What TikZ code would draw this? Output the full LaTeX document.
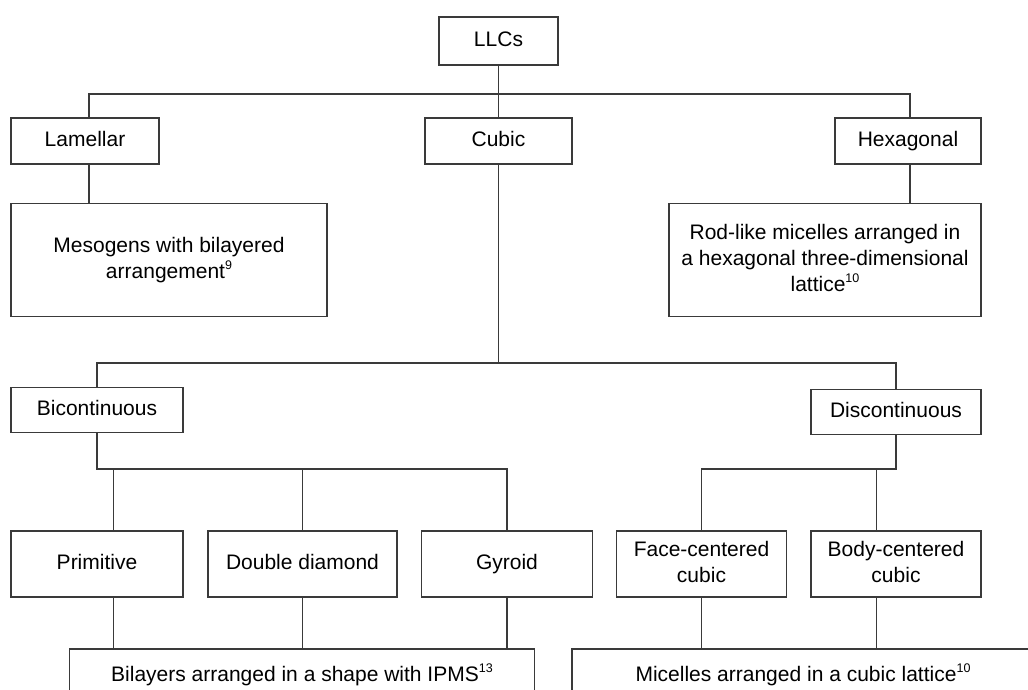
\documentclass[tikz,border=0pt]{standalone}
\usepackage{fontspec}
\setmainfont{Liberation Sans}
\definecolor{linec}{HTML}{3A3A3A}
\newcommand\refnum[1]{\raisebox{9pt}{\fontsize{12.5}{12.5}\selectfont #1}}
\newcommand\ph{\vphantom{Ay}}
\tikzset{
  box/.style={draw=linec, line width=1.4pt, rectangle, inner sep=0pt, align=center,
    font=\fontsize{21}{25.8}\selectfont, text=black},
  conn/.style={draw=linec, line width=1.4pt}
}
\begin{document}
\begin{tikzpicture}[x=1pt,y=-1pt]
\useasboundingbox (0,0) rectangle (1028,690);
\clip (0,0) rectangle (1028,690);
\fill[white] (0,0) rectangle (1028,690);

\node[box, minimum width=119pt, minimum height=48pt] (llc) at (498.5,41) {\ph LLCs};
\node[box, minimum width=148pt, minimum height=46pt] (lam) at (85,141) {\ph Lamellar};
\node[box, minimum width=147pt, minimum height=46pt] (cub) at (498.5,141) {\ph Cubic};
\node[box, minimum width=146pt, minimum height=46pt] (hex) at (908,141) {\ph Hexagonal};
\node[box, minimum width=316pt, minimum height=113pt] (meso) at (169,260) {\ph Mesogens with bilayered\\\ph arrangement\refnum{9}};
\node[box, minimum width=312pt, minimum height=113pt] (hexd) at (825,260) {\ph Rod-like micelles arranged in\\\ph a hexagonal three-dimensional\\\ph lattice\refnum{10}};
\node[box, minimum width=172pt, minimum height=45pt] (bic) at (97,410) {\ph Bicontinuous};
\node[box, minimum width=170pt, minimum height=45pt] (dis) at (896,412) {\ph Discontinuous};
\node[box, minimum width=172pt, minimum height=66pt] (prim) at (97,564) {\ph Primitive};
\node[box, minimum width=189pt, minimum height=66pt] (dd) at (302.5,564) {\ph Double diamond};
\node[box, minimum width=171pt, minimum height=66pt] (gyr) at (507,564) {\ph Gyroid};
\node[box, minimum width=170pt, minimum height=66pt] (fcc) at (701.5,564) {\ph Face-centered\\\ph cubic};
\node[box, minimum width=170pt, minimum height=66pt] (bcc) at (896,564) {\ph Body-centered\\\ph cubic};
\node[box, minimum width=465pt, minimum height=52pt] (bil) at (302,675) {\ph Bilayers arranged in a shape with IPMS\refnum{13}};
\node[box, minimum width=462pt, minimum height=52pt] (mic) at (803,675) {\ph Micelles arranged in a cubic lattice\refnum{10}};

\coordinate (b1) at (0,94);
\coordinate (b2) at (0,363);
\coordinate (b3) at (0,469);
\coordinate (lamT) at ([xshift=4pt]lam.north);
\coordinate (lamB) at ([xshift=4pt]lam.south);
\coordinate (hexT) at ([xshift=2pt]hex.north);
\coordinate (hexB) at ([xshift=2pt]hex.south);
\coordinate (primT) at ([xshift=16.7pt]prim.north);
\coordinate (primB) at ([xshift=16.7pt]prim.south);
\coordinate (bccT) at ([xshift=-19.3pt]bcc.north);
\coordinate (bccB) at ([xshift=-19.3pt]bcc.south);

\draw[conn] (llc.south) -- (cub.north);
\draw[conn] (lamT) -- (lamT |- b1) -- (hexT |- b1) -- (hexT);
\draw[conn] (lamB) -- (lamB |- meso.north);
\draw[conn] (hexB) -- (hexB |- hexd.north);
\draw[conn] (cub.south) -- (cub.south |- b2);
\draw[conn] (bic.north) -- (bic.north |- b2) -- (dis.north |- b2) -- (dis.north);
\draw[conn] (bic.south) -- (bic.south |- b3) -- (gyr.north |- b3) -- (gyr.north);
\draw[conn] (primT) -- (primT |- b3);
\draw[conn] (dd.north) -- (dd.north |- b3);
\draw[conn] (dis.south) -- (dis.south |- b3) -- (fcc.north |- b3) -- (fcc.north);
\draw[conn] (bccT) -- (bccT |- b3);
\draw[conn] (primB) -- (primB |- bil.north);
\draw[conn] (dd.south) -- (dd.south |- bil.north);
\draw[conn] (gyr.south) -- (gyr.south |- bil.north);
\draw[conn] (fcc.south) -- (fcc.south |- mic.north);
\draw[conn] (bccB) -- (bccB |- mic.north);
\end{tikzpicture}
\end{document}
